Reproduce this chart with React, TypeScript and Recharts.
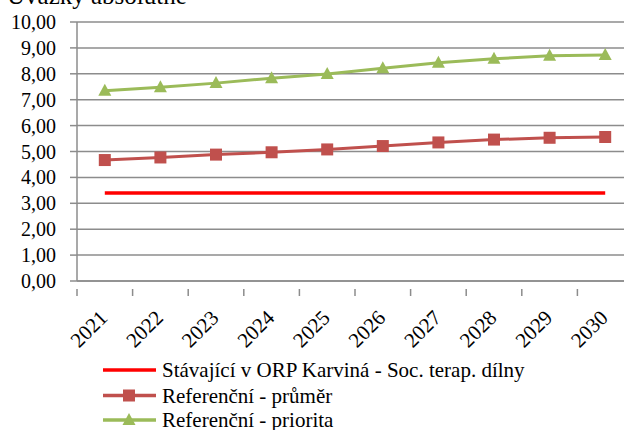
import React from "react";
import { LineChart, Line, XAxis, YAxis, CartesianGrid } from "recharts";

const years = ["2021", "2022", "2023", "2024", "2025", "2026", "2027", "2028", "2029", "2030"];
const stavajici = [3.4, 3.4, 3.4, 3.4, 3.4, 3.4, 3.4, 3.4, 3.4, 3.4];
const prumer = [4.67, 4.77, 4.88, 4.97, 5.08, 5.21, 5.35, 5.46, 5.53, 5.56];
const priorita = [7.35, 7.48, 7.64, 7.83, 7.99, 8.21, 8.43, 8.58, 8.7, 8.73];
const yTicks = [0, 1, 2, 3, 4, 5, 6, 7, 8, 9, 10];

const seriesNames = [
  "Stávající v ORP Karviná - Soc. terap. dílny",
  "Referenční - průměr",
  "Referenční - priorita",
];
const COLORS = ["#FF0000", "#C0504D", "#9BBB59"];
const FONT = '"Liberation Serif", "Noto Serif", serif';
const GRID = "#8c8c8c";

const data = years.map((y, i) => ({
  year: y,
  s: stavajici[i],
  p: prumer[i],
  q: priorita[i],
}));

const BAND = 55.6;

const SquareDot = (props: any) => {
  const { cx, cy } = props;
  if (cx == null || cy == null) return null;
  return <rect x={cx - 6} y={cy - 6} width={12} height={12} fill={COLORS[1]} />;
};

const TriDot = (props: any) => {
  const { cx, cy } = props;
  if (cx == null || cy == null) return null;
  return (
    <polygon
      points={`${cx},${cy - 7} ${cx + 6.5},${cy + 5} ${cx - 6.5},${cy + 5}`}
      fill={COLORS[2]}
    />
  );
};

const XTick = (props: any) => {
  const { x, y, payload, index } = props;
  const ax = x + 4;
  const ay = y + 30;
  return (
    <g>
      <line x1={x - BAND / 2} y1={y} x2={x - BAND / 2} y2={y + 7} stroke={GRID} strokeWidth={1.5} />
      {index === years.length - 1 && (
        <line x1={x + BAND / 2} y1={y} x2={x + BAND / 2} y2={y + 7} stroke={GRID} strokeWidth={1.5} />
      )}
      <text
        x={ax}
        y={ay}
        textAnchor="end"
        transform={`rotate(-45, ${ax}, ${ay})`}
        style={{ fontFamily: FONT, fontSize: 21 }}
        fill="#000"
      >
        {payload.value}
      </text>
    </g>
  );
};

const YTick = (props: any) => {
  const { y, payload } = props;
  return (
    <g>
      <line x1={70} y1={y} x2={77} y2={y} stroke={GRID} strokeWidth={1.5} />
      <text
        x={56}
        y={y}
        dy={7}
        textAnchor="end"
        style={{ fontFamily: FONT, fontSize: 20 }}
        fill="#000"
      >
        {Number(payload.value).toFixed(2).replace(".", ",")}
      </text>
    </g>
  );
};

export default function App() {
  const legendRows = [370, 395.5, 420];
  return (
    <div
      style={{
        position: "absolute",
        left: 0,
        top: 0,
        width: 624,
        height: 430,
        overflow: "hidden",
        background: "#fff",
      }}
    >
      <LineChart
        width={660}
        height={430}
        data={data}
        margin={{ top: 22, right: 27, left: 0, bottom: 0 }}
      >
        <CartesianGrid vertical={false} stroke={GRID} strokeWidth={1.5} />
        <XAxis
          dataKey="year"
          scale="band"
          height={149}
          interval={0}
          tickLine={false}
          axisLine={{ stroke: GRID, strokeWidth: 1.5 }}
          tick={<XTick />}
        />
        <YAxis
          width={77}
          domain={[0, 10]}
          ticks={yTicks}
          interval={0}
          tickLine={false}
          axisLine={{ stroke: GRID, strokeWidth: 1.5 }}
          tick={<YTick />}
        />
        <Line
          dataKey="s"
          name={seriesNames[0]}
          stroke={COLORS[0]}
          strokeWidth={3.5}
          dot={false}
          isAnimationActive={false}
        />
        <Line
          dataKey="p"
          name={seriesNames[1]}
          stroke={COLORS[1]}
          strokeWidth={3}
          dot={<SquareDot />}
          isAnimationActive={false}
        />
        <Line
          dataKey="q"
          name={seriesNames[2]}
          stroke={COLORS[2]}
          strokeWidth={3}
          dot={<TriDot />}
          isAnimationActive={false}
        />
      </LineChart>
      <svg
        width={624}
        height={430}
        style={{ position: "absolute", left: 0, top: 0, pointerEvents: "none" }}
      >
        <text x={7} y={4} style={{ fontFamily: FONT, fontSize: 25 }} fill="#000">
          Úvazky absolutně
        </text>
        {seriesNames.map((n, i) => {
          const cy = legendRows[i];
          return (
            <g key={n}>
              <line x1={103} y1={cy} x2={156} y2={cy} stroke={COLORS[i]} strokeWidth={3.5} />
              {i === 1 && <SquareDot cx={129} cy={cy} />}
              {i === 2 && <TriDot cx={129} cy={cy} />}
              <text
                x={162}
                y={cy}
                dy={7}
                style={{ fontFamily: FONT, fontSize: 21 }}
                fill="#000"
              >
                {n}
              </text>
            </g>
          );
        })}
      </svg>
    </div>
  );
}
